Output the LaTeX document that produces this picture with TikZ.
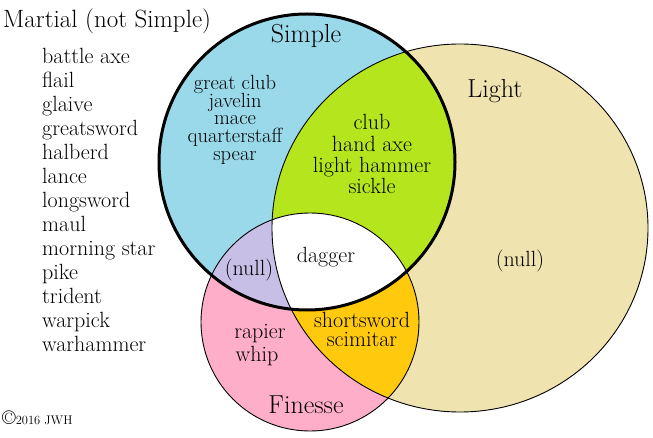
\documentclass[tikz,border=0pt]{standalone}
\usepackage{fontspec}
\definecolor{cSimple}{HTML}{99D9EA}
\definecolor{cLight}{HTML}{EFE4B0}
\definecolor{cFin}{HTML}{FFAEC9}
\definecolor{cSL}{HTML}{B5E61D}
\definecolor{cSF}{HTML}{C8BFE7}
\definecolor{cFL}{HTML}{FFC90E}
\newcommand{\heavier}{\addfontfeature{FakeBold=1}}
\tikzset{
  setlabel/.style={font=\fontsize{26}{26}\selectfont\heavier, inner sep=0pt, anchor=base},
  item/.style={font=\fontsize{22}{22}\selectfont\heavier, inner sep=0pt, anchor=base},
  listitem/.style={item, anchor=base west},
  thinline/.style={draw=black, line width=0.9pt},
  thickline/.style={draw=black, line width=3pt}
}
\begin{document}
\begin{tikzpicture}[x=1pt,y=-1pt]
\useasboundingbox[fill=white] (0,0) rectangle (653,438);
% fills
\fill[cLight] (460,228) ellipse[x radius=188pt,y radius=184pt];
\fill[cFin] (310,322) circle[radius=109pt];
\begin{scope}
  \clip (310,322) circle[radius=109pt];
  \fill[cFL] (460,228) ellipse[x radius=188pt,y radius=184pt];
\end{scope}
\fill[cSimple] (307,162) circle[radius=148pt];
\begin{scope}
  \clip (307,162) circle[radius=148pt];
  \fill[cSL] (460,228) ellipse[x radius=188pt,y radius=184pt];
  \fill[cSF] (310,322) circle[radius=109pt];
  \clip (310,322) circle[radius=109pt];
  \fill[white] (460,228) ellipse[x radius=188pt,y radius=184pt];
\end{scope}
% outlines
\path[thinline] (460,228) ellipse[x radius=188pt,y radius=184pt];
\path[thinline] (310,322) circle[radius=109pt];
\path[thickline] (307,162) circle[radius=148pt];
% set labels
\node[setlabel] (lsimple) at (306,42.7) {Simple};
\node[setlabel] (llight) at (495,98) {Light};
\node[setlabel] (lfin) at (306,413.3) {Finesse};
\node[setlabel, font=\fontsize{25}{25}\selectfont\heavier, anchor=base west] (lmartial) at (3,27.3) {Martial (not Simple)};
% martial list
\foreach \t [count=\i] in {battle axe, flail, glaive, greatsword, halberd, lance, longsword, maul, morning star, pike, trident, warpick, warhammer}
  \node[listitem] (m\i) at (42,{63.3+24*(\i-1)}) {\t};
% simple only
\foreach \t/\y [count=\i] in {great club/89.5, javelin/107.5, mace/125, quarterstaff/143, spear/160.5}
  \node[item, font=\fontsize{20.5}{20.5}\selectfont\heavier] (s\i) at (235,\y) {\t};
% simple & light
\foreach \t [count=\i] in {club, hand axe, light hammer, sickle}
  \node[item] (sl\i) at (372,{130+21.3*(\i-1)}) {\t};
\node[item] (nullL) at (520,267) {(null)};
\node[item] (dagger) at (326,262.7) {dagger};
\node[item] (nullSF) at (249,275.7) {(null)};
\node[item] (fl1) at (362,327.7) {shortsword};
\node[item] (fl2) at (362,346.7) {scimitar};
\node[item] (f1) at (260,338.3) {rapier};
\node[item] (f2) at (257,361.7) {whip};
\node[inner sep=0pt, anchor=base west] (copy) at (2,424) {{\fontsize{20}{20}\selectfont\addfontfeature{FakeBold=2}\textcopyright}{\fontsize{12.5}{12.5}\selectfont\heavier 2016 JWH}};
\end{tikzpicture}
\end{document}
